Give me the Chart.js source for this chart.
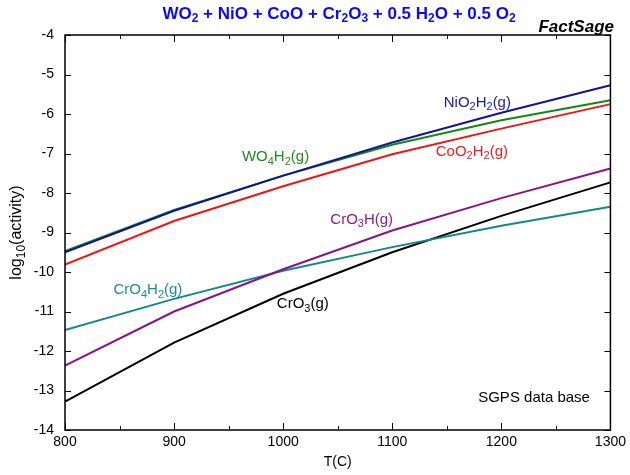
<!DOCTYPE html>
<html>
<head>
<meta charset="utf-8">
<script src="https://cdn.jsdelivr.net/npm/chart.js@4"></script>
<style>
  html, body { margin: 0; padding: 0; background: #fff; }
  #wrap { width: 630px; height: 475px; }
</style>
</head>
<body>
<div id="wrap"><canvas id="myChart" width="630" height="475"></canvas></div>
<script>
// temperatures (C) and log10(activity)
const temps = [800, 900, 1000, 1100, 1200, 1300];
const niO2H2 = [-9.50, -8.45, -7.56, -6.72, -5.97, -5.27];
const wO4H2 = [-9.47, -8.43, -7.56, -6.78, -6.16, -5.65];
const coO2H2 = [-9.81, -8.71, -7.83, -7.02, -6.37, -5.75];
const crO3H = [-12.37, -11.00, -9.93, -8.95, -8.13, -7.38];
const crO4H2 = [-11.47, -10.68, -9.97, -9.37, -8.83, -8.35];
const crO3 = [-13.28, -11.79, -10.55, -9.50, -8.58, -7.73];

const seriesNames = ['NiO_2H_2(g)', 'WO_4H_2(g)', 'CoO_2H_2(g)', 'CrO_3H(g)', 'CrO_4H_2(g)', 'CrO_3(g)'];
const seriesValues = [niO2H2, wO4H2, coO2H2, crO3H, crO4H2, crO3];
const seriesColors = ['#12129a', '#128a12', '#f01414', '#8a128a', '#12898a', '#000000'];
const labelColors = ['#1c1c9c', '#1c8c1c', '#f01c1c', '#8c1c8c', '#1c8c8c', '#000000'];
// label anchor in data units (T, log a)
const labelT = [1178, 993, 1173, 1072, 876, 1018];
const labelY = [-5.72, -7.09, -6.96, -8.68, -10.46, -10.81];

const titleText = 'WO_2 + NiO + CoO + Cr_2O_3 + 0.5 H_2O + 0.5 O_2';
const yTitle = 'log_10(activity)';
const xTitle = 'T(C)';
const noteText = 'SGPS data base';

const FONT = '"Liberation Sans", Arial, sans-serif';

// split "WO_4H_2" into normal / subscript runs
function parseSub(str) {
  const parts = [];
  const re = /_(\d+)/g;
  let last = 0, m;
  while ((m = re.exec(str)) !== null) {
    if (m.index > last) parts.push({ t: str.slice(last, m.index), sub: false });
    parts.push({ t: m[1], sub: true });
    last = re.lastIndex;
  }
  if (last < str.length) parts.push({ t: str.slice(last), sub: false });
  return parts;
}

function drawRich(ctx, str, x, y, size, color, weight, align) {
  const parts = parseSub(str);
  const subSize = Math.round(size * 0.72);
  let total = 0;
  parts.forEach(p => {
    ctx.font = weight + ' ' + (p.sub ? subSize : size) + 'px ' + FONT;
    p.w = ctx.measureText(p.t).width;
    total += p.w;
  });
  let cx = x;
  if (align === 'center') cx = x - total / 2;
  if (align === 'right') cx = x - total;
  ctx.fillStyle = color;
  ctx.textBaseline = 'middle';
  ctx.textAlign = 'left';
  parts.forEach(p => {
    ctx.font = weight + ' ' + (p.sub ? subSize : size) + 'px ' + FONT;
    ctx.fillText(p.t, cx, p.sub ? y + size * 0.3 : y);
    cx += p.w;
  });
}

const decorPlugin = {
  id: 'decor',
  afterDraw(chart) {
    const ctx = chart.ctx;
    const a = chart.chartArea;
    const xs = chart.scales.x;
    const ys = chart.scales.y;
    ctx.save();

    // frame
    ctx.strokeStyle = '#000';
    ctx.lineWidth = 1.5;
    ctx.strokeRect(a.left, a.top, a.right - a.left, a.bottom - a.top);

    // inward ticks
    ctx.lineWidth = 1;
    ctx.beginPath();
    for (let t = 800; t <= 1300; t += 50) {
      const px = Math.round(xs.getPixelForValue(t)) + 0.5;
      const len = (t % 100 === 0) ? 7 : 4;
      ctx.moveTo(px, a.bottom); ctx.lineTo(px, a.bottom - len);
      ctx.moveTo(px, a.top); ctx.lineTo(px, a.top + len);
    }
    for (let v = -14; v <= -4; v++) {
      const py = Math.round(ys.getPixelForValue(v)) + 0.5;
      ctx.moveTo(a.left, py); ctx.lineTo(a.left + 6, py);
      ctx.moveTo(a.right, py); ctx.lineTo(a.right - 6, py);
    }
    ctx.stroke();

    // title and FactSage mark
    drawRich(ctx, titleText, 339, 14, 17, '#0a0af5', 'bold', 'center');
    ctx.font = 'italic bold 17px ' + FONT;
    ctx.fillStyle = '#000';
    ctx.textAlign = 'right';
    ctx.textBaseline = 'middle';
    ctx.fillText('FactSage', 614, 27);

    // axis titles
    ctx.font = '14px ' + FONT;
    ctx.textAlign = 'center';
    ctx.fillText(xTitle, (a.left + a.right) / 2, 462);
    ctx.save();
    ctx.translate(17, (a.top + a.bottom) / 2);
    ctx.rotate(-Math.PI / 2);
    drawRich(ctx, yTitle, 0, 0, 16, '#000', 'normal', 'center');
    ctx.restore();

    // curve labels
    seriesNames.forEach((name, i) => {
      drawRich(ctx, name, xs.getPixelForValue(labelT[i]), ys.getPixelForValue(labelY[i]),
        15, labelColors[i], 'normal', 'center');
    });
    drawRich(ctx, noteText, xs.getPixelForValue(1230), ys.getPixelForValue(-13.19),
      15, '#000', 'normal', 'center');
    ctx.restore();
  }
};

function createChart() {
  const ctx = document.getElementById('myChart').getContext('2d');
  const datasets = seriesValues.map((vals, i) => ({
    label: seriesNames[i],
    data: temps.map((t, j) => ({ x: t, y: vals[j] })),
    borderColor: seriesColors[i],
    borderWidth: 2,
    showLine: true,
    fill: false,
    tension: 0,
    pointRadius: 0
  }));
  return new Chart(ctx, {
    type: 'scatter',
    data: { datasets: datasets },
    options: {
      responsive: false,
      animation: false,
      layout: { padding: { top: 35, right: 17, left: 0, bottom: 0 } },
      plugins: {
        legend: { display: false },
        tooltip: { enabled: false }
      },
      scales: {
        x: {
          type: 'linear',
          position: 'bottom',
          min: 800,
          max: 1300,
          afterFit: s => { s.height = 45; },
          grid: { display: false, drawTicks: false },
          border: { display: false },
          ticks: {
            stepSize: 100,
            padding: 4,
            color: '#000',
            font: { family: FONT, size: 14 },
            callback: v => String(v)
          }
        },
        y: {
          type: 'linear',
          position: 'left',
          min: -14,
          max: -4,
          afterFit: s => { s.width = 65; },
          grid: { display: false, drawTicks: false },
          border: { display: false },
          ticks: {
            stepSize: 1,
            padding: 11,
            color: '#000',
            font: { family: FONT, size: 14 },
            callback: v => String(v)
          }
        }
      }
    },
    plugins: [decorPlugin]
  });
}

const myChart = createChart();
</script>
</body>
</html>
